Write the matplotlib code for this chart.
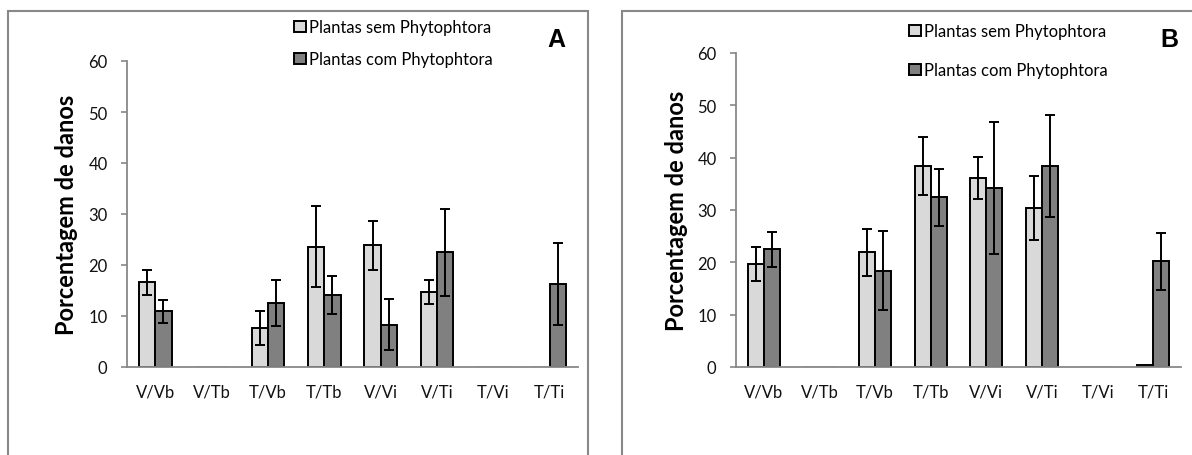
import matplotlib
matplotlib.use("Agg")
import matplotlib.pyplot as plt
import numpy as np
from matplotlib.patches import Rectangle

plt.rcParams['font.family'] = ['Lato', 'DejaVu Sans']

categories = ["V/Vb", "V/Tb", "T/Vb", "T/Tb", "V/Vi", "V/Ti", "T/Vi", "T/Ti"]
series_names = ["Plantas sem Phytophtora", "Plantas com Phytophtora"]

a_sem = [16.6, 0, 7.6, 23.6, 23.9, 14.7, 0, 0]
a_sem_err = [2.4, 0, 3.3, 7.9, 4.8, 2.4, 0, 0]
a_com = [10.9, 0, 12.5, 14.1, 8.3, 22.5, 0, 16.3]
a_com_err = [2.2, 0, 4.5, 3.8, 5.0, 8.5, 0, 8.1]

b_sem = [19.7, 0, 21.9, 38.4, 36.1, 30.4, 0, 0.45]
b_sem_err = [3.2, 0, 4.5, 5.6, 4.0, 6.1, 0, 0]
b_com = [22.5, 0, 18.4, 32.4, 34.2, 38.4, 0, 20.2]
b_com_err = [3.3, 0, 7.5, 5.5, 12.7, 9.7, 0, 5.4]

yticks = [0, 10, 20, 30, 40, 50, 60]
panel_letters = ["A", "B"]

W, H = 1192, 456
fig = plt.figure(figsize=(W / 100, H / 100), dpi=100)

light = "#d9d9d9"
dark = "#808080"
axis_grey = "#888888"

def fx(px):
    return px / W

def fy(py):
    return 1 - py / H

# panel frames
fig.patches.append(Rectangle((fx(8), fy(470)), fx(588) - fx(8), fy(12) - fy(470),
                             transform=fig.transFigure, fill=False,
                             edgecolor=axis_grey, lw=1.5))
fig.patches.append(Rectangle((fx(622), fy(470)), fx(1210) - fx(622), fy(12) - fy(470),
                             transform=fig.transFigure, fill=False,
                             edgecolor=axis_grey, lw=1.5))

panels = [
    dict(rect=[fx(127), fy(368), fx(578) - fx(127), fy(62) - fy(368)],
         sem=a_sem, sem_err=a_sem_err, com=a_com, com_err=a_com_err,
         leg=(fx(294), fy(20)), spacing=0.96, letter=(fx(556), fy(40)), lab_x=-0.109),
    dict(rect=[fx(736), fy(368), fx(1181) - fx(736), fy(54) - fy(368)],
         sem=b_sem, sem_err=b_sem_err, com=b_com, com_err=b_com_err,
         leg=(fx(909), fy(24)), spacing=1.38, letter=(fx(1169), fy(40)), lab_x=-0.108),
]

x = np.arange(len(categories))
w = 0.29

for p, letter in zip(panels, panel_letters):
    ax = fig.add_axes(p["rect"])
    for vals, errs, off, col, name in [(p["sem"], p["sem_err"], -w / 2, light, series_names[0]),
                                       (p["com"], p["com_err"], w / 2, dark, series_names[1])]:
        edges = ["black" if v > 0 else "#c8c8c8" for v in vals]
        ax.bar(x + off, vals, width=w, color=col, edgecolor=edges, linewidth=1.4,
               label=name, zorder=2)
        xe = [xi + off for xi, e in zip(x, errs) if e > 0]
        ve = [v for v, e in zip(vals, errs) if e > 0]
        ee = [e for e in errs if e > 0]
        ax.errorbar(xe, ve, yerr=ee, fmt="none", ecolor="black", elinewidth=1.4,
                    capsize=3.6, capthick=1.4, zorder=3)
    ax.set_xlim(-0.5, len(categories) - 0.5)
    ax.set_ylim(0, 60)
    ax.set_yticks(yticks)
    ax.set_xticks(x)
    ax.set_xticklabels(categories)
    for s in ["top", "right"]:
        ax.spines[s].set_visible(False)
    for s in ["left", "bottom"]:
        ax.spines[s].set_color(axis_grey)
        ax.spines[s].set_linewidth(1.3)
    ax.tick_params(axis="y", direction="out", length=4, width=1.2, color=axis_grey,
                   labelsize=12, pad=10, labelcolor="#111111")
    ax.tick_params(axis="x", length=0, labelsize=12, pad=12, labelcolor="#111111")
    ax.set_ylabel("Porcentagem de danos", fontsize=17, fontweight="bold")
    ax.yaxis.set_label_coords(p["lab_x"], 0.5)
    ax.set_facecolor("none")
    handles, labels = ax.get_legend_handles_labels()
    leg = ax.legend(handles, labels, loc="upper left", bbox_to_anchor=p["leg"],
                    bbox_transform=fig.transFigure, frameon=False, fontsize=12,
                    handlelength=0.7, handleheight=0.65, handletextpad=0.2,
                    labelspacing=p["spacing"], borderpad=0, borderaxespad=0)
    fig.text(p["letter"][0], p["letter"][1], letter, fontsize=18, fontweight="bold",
             ha="center", va="center", family=["Liberation Sans", "DejaVu Sans"])

fig.savefig("out.png", dpi=100)
